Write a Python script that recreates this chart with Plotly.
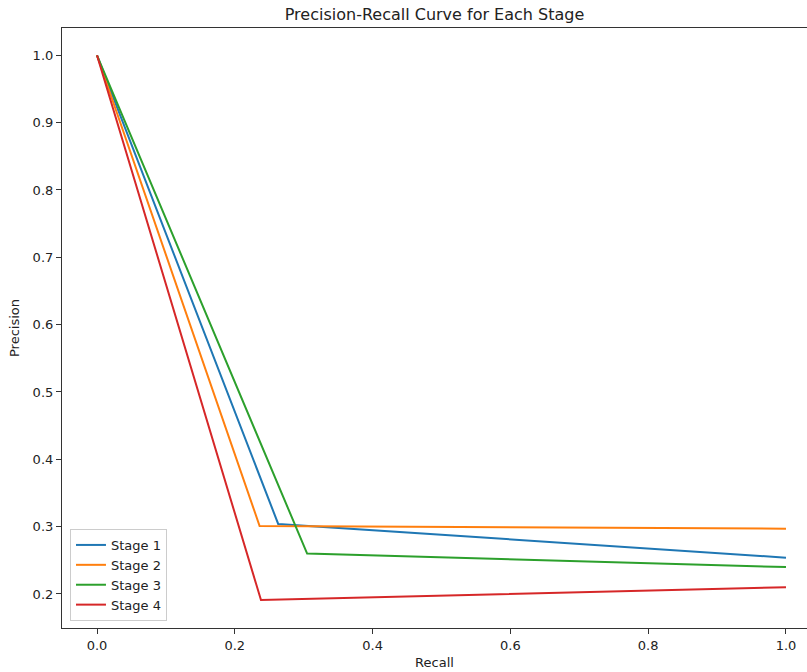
import plotly.graph_objects as go

stages = ["Stage 1", "Stage 2", "Stage 3", "Stage 4"]
recall_s1 = [0.0, 0.263, 1.0]
precision_s1 = [1.0, 0.304, 0.254]
recall_s2 = [0.0, 0.236, 1.0]
precision_s2 = [1.0, 0.301, 0.297]
recall_s3 = [0.0, 0.305, 1.0]
precision_s3 = [1.0, 0.260, 0.240]
recall_s4 = [0.0, 0.238, 1.0]
precision_s4 = [1.0, 0.191, 0.210]
colors = ["#1f77b4", "#ff7f0e", "#2ca02c", "#d62728"]

recalls = [recall_s1, recall_s2, recall_s3, recall_s4]
precisions = [precision_s1, precision_s2, precision_s3, precision_s4]

FONT = "DejaVu Sans"
fig = go.Figure()
for name, r, p, c in zip(stages, recalls, precisions, colors):
    fig.add_trace(go.Scatter(x=r, y=p, mode="lines", name=name,
                             line=dict(color=c, width=2)))

axis_common = dict(showgrid=False, zeroline=False, showline=True, linecolor="#333",
                   linewidth=1.2, ticks="outside", ticklen=5, tickwidth=1, tickcolor="#333",
                   tickfont=dict(family=FONT, size=13, color="#222"))
fig.update_layout(
    width=807, height=672,
    margin=dict(l=62, r=0, t=28, b=44),
    plot_bgcolor="white", paper_bgcolor="white",
    title=dict(text="Precision-Recall Curve for Each Stage", x=0.5, xanchor="center",
               xref="paper", y=1 - 14 / 672, yanchor="middle",
               font=dict(family=FONT, size=16, color="#222")),
    xaxis=dict(range=[-0.0508, 1.0305], tickvals=[0, 0.2, 0.4, 0.6, 0.8, 1.0],
               ticktext=["0.0", "0.2", "0.4", "0.6", "0.8", "1.0"], mirror=True,
               title=dict(text="Recall", font=dict(family=FONT, size=13, color="#222"), standoff=6),
               **axis_common),
    yaxis=dict(range=[0.1495, 1.0405], tickvals=[0.2, 0.3, 0.4, 0.5, 0.6, 0.7, 0.8, 0.9, 1.0],
               ticktext=["0.2", "0.3", "0.4", "0.5", "0.6", "0.7", "0.8", "0.9", "1.0"],
               title=dict(text="Precision", font=dict(family=FONT, size=13, color="#222"), standoff=10),
               **axis_common),
    legend=dict(x=0.0107, y=0.0117, xanchor="left", yanchor="bottom",
                bgcolor="rgba(255,255,255,0.8)", bordercolor="#ccc", borderwidth=1,
                font=dict(family=FONT, size=13, color="#222"), tracegroupgap=0),
    showlegend=True,
)
fig.write_html("out.html")
